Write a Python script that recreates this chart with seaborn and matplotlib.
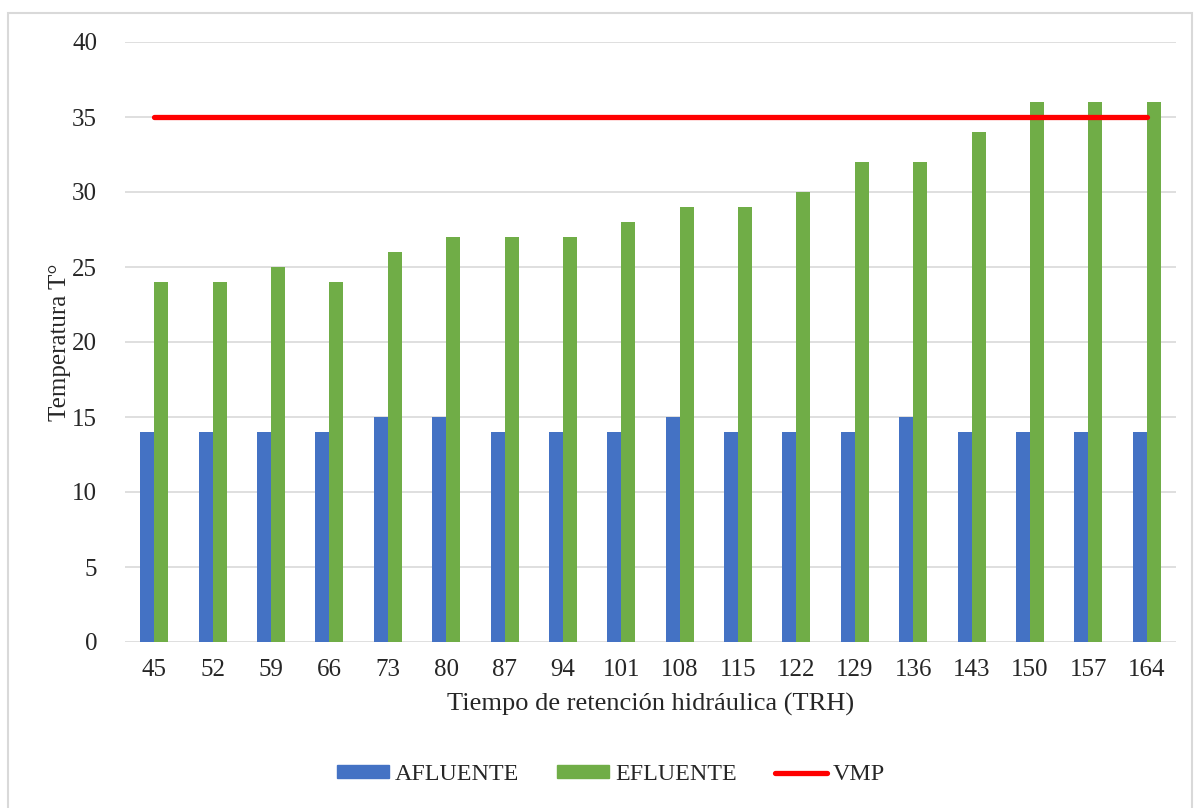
import pandas as pd
import numpy as np
import matplotlib
matplotlib.use('Agg')
import matplotlib.pyplot as plt
import seaborn as sns
from matplotlib.patches import Patch, Rectangle
from matplotlib.lines import Line2D

# datos
trh = [45, 52, 59, 66, 73, 80, 87, 94, 101, 108, 115, 122, 129, 136, 143, 150, 157, 164]
afluente = [14, 14, 14, 14, 15, 15, 14, 14, 14, 15, 14, 14, 14, 15, 14, 14, 14, 14]
efluente = [24, 24, 25, 24, 26, 27, 27, 27, 28, 29, 29, 30, 32, 32, 34, 36, 36, 36]
vmp = [35] * len(trh)

sns.set_style('white')
plt.rcParams['font.family'] = ['Liberation Serif', 'DejaVu Serif']

df = pd.DataFrame({'TRH': trh * 2,
                   'valor': afluente + efluente,
                   'serie': ['AFLUENTE'] * len(trh) + ['EFLUENTE'] * len(trh)})

colores = {'AFLUENTE': '#4472C4', 'EFLUENTE': '#70AD47'}

fig = plt.figure(figsize=(12, 8.08), dpi=100)
ax = fig.add_axes([125 / 1200, 1 - 642 / 808, 1051 / 1200, 600 / 808])

sns.barplot(data=df, x='TRH', y='valor', hue='serie', palette=colores,
            width=0.48, ax=ax, legend=False, saturation=1, linewidth=0)

x = np.arange(len(trh))
ax.plot(x, vmp, color='#FF0000', lw=3.8, solid_capstyle='round', zorder=5)

ax.set_xlim(-0.5, len(trh) - 0.5)
ax.set_ylim(0, 40)
ax.set_yticks(range(0, 41, 5))
ax.grid(axis='y', color='#D9D9D9', lw=1.2)
ax.set_axisbelow(True)
for s in ax.spines.values():
    s.set_visible(False)
ax.tick_params(axis='y', length=0, pad=20, labelsize=18)
ax.tick_params(axis='x', length=0, pad=12, labelsize=18)

ax.set_xlabel('Tiempo de retención hidráulica (TRH)', fontsize=19, labelpad=9)
ax.set_ylabel('Temperatura T°', fontsize=18, labelpad=1)

handles = [Patch(color='#4472C4', label='AFLUENTE'),
           Patch(color='#70AD47', label='EFLUENTE'),
           Line2D([0], [0], color='#FF0000', lw=3.8, solid_capstyle='round', label='VMP')]
fig.legend(handles=handles, loc='center', bbox_to_anchor=(611 / 1200, 1 - 775 / 808),
           ncol=3, frameon=False, fontsize=17.3, handlelength=2.15, handleheight=0.46,
           columnspacing=1.6, handletextpad=0.25)

# marco exterior
fig.patches.append(Rectangle((8 / 1200, -0.01), 1184 / 1200, 1 - 13 / 808 + 0.01,
                             transform=fig.transFigure, fill=False,
                             edgecolor='#D9D9D9', lw=1.5))

fig.savefig('out.png', dpi=100)
